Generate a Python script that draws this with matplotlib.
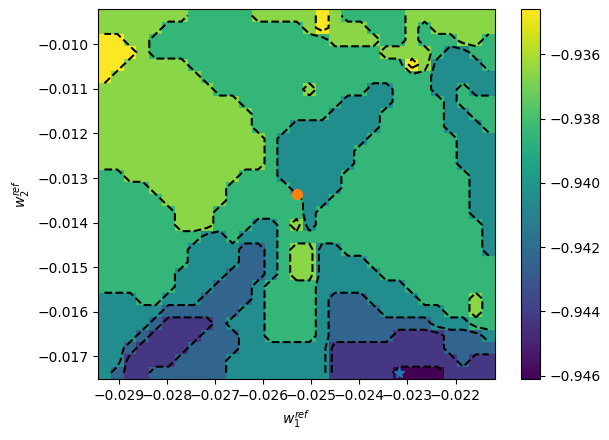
import numpy as np
import matplotlib
matplotlib.use('Agg')
import matplotlib.pyplot as plt

# level code per cell, top row first (0 = lowest value ... 6 = highest)
grid_rows = [
    "5555555444445555565444445555555",
    "5555544444444444565554445455555",
    "6655444444444444445555445444554",
    "6665444444444444444444555543344",
    "6655555444444444444444446533334",
    "6555555544444444444444444433333",
    "5555555554444444544443344433433",
    "5555555555544444444333344443444",
    "5555555555554444443333444443344",
    "5555555555554443333333444443334",
    "5555555555555433333334444444333",
    "5555555555555433333344444444333",
    "5555555555555433333344444444333",
    "4455555555544433333444444444433",
    "4444555555444443333444444444433",
    "4444455555444444334444444444433",
    "4444445554444444344444444444433",
    "4444445554443345344444444444443",
    "4444444433433344444444444444443",
    "4444444333322345533444444444443",
    "4444444333322345533334444444444",
    "4444443333222345533333444444444",
    "4444443332223444433333334444444",
    "3334433322223444432223333444454",
    "3333322222233444432222333334454",
    "3333211112333444432222222233344",
    "3332111122233444432222211112223",
    "3321111222233333331111111112222",
    "3311112222333333331111111111211",
    "3211222222333333331111100001111",
]
level_values = [-0.9461, -0.9443, -0.9424, -0.9405, -0.9385, -0.9366, -0.9346]

x_range = (-0.029444, -0.021175)
y_range = (-0.017509, -0.009215)

star_pt = (-0.023167, -0.017368)
circle_pt = (-0.025304, -0.013359)

codes = np.array([[int(ch) for ch in row] for row in grid_rows])[::-1]
Z = np.array(level_values)[codes]
ny, nx = Z.shape
xe = np.linspace(x_range[0], x_range[1], nx + 1)
ye = np.linspace(y_range[0], y_range[1], ny + 1)
xc = (xe[:-1] + xe[1:]) / 2
yc = (ye[:-1] + ye[1:]) / 2

# contour between neighbouring value bands
vals = np.array(level_values)
contour_levels = (vals[:-1] + vals[1:]) / 2

fig = plt.figure(figsize=(6.09, 4.4), dpi=100)
ax = fig.add_axes([0.161, 0.1386, 0.652, 0.8403])
mesh = ax.pcolormesh(xe, ye, Z, cmap='viridis',
                     vmin=vals.min(), vmax=vals.max())
ax.contour(xc, yc, Z, levels=contour_levels, colors='k', linestyles='dashed')
ax.plot(star_pt[0], star_pt[1], '*', color='tab:blue', markersize=8)
ax.plot(circle_pt[0], circle_pt[1], 'o', color='tab:orange', markersize=7)
ax.set_xlim(x_range)
ax.set_ylim(y_range)
ax.set_xlabel(r'$w_1^{ref}$')
ax.set_ylabel(r'$w_2^{ref}$')

cax = fig.add_axes([0.8555, 0.1386, 0.0312, 0.8403])
fig.colorbar(mesh, cax=cax)

fig.savefig('out.png', dpi=100)
